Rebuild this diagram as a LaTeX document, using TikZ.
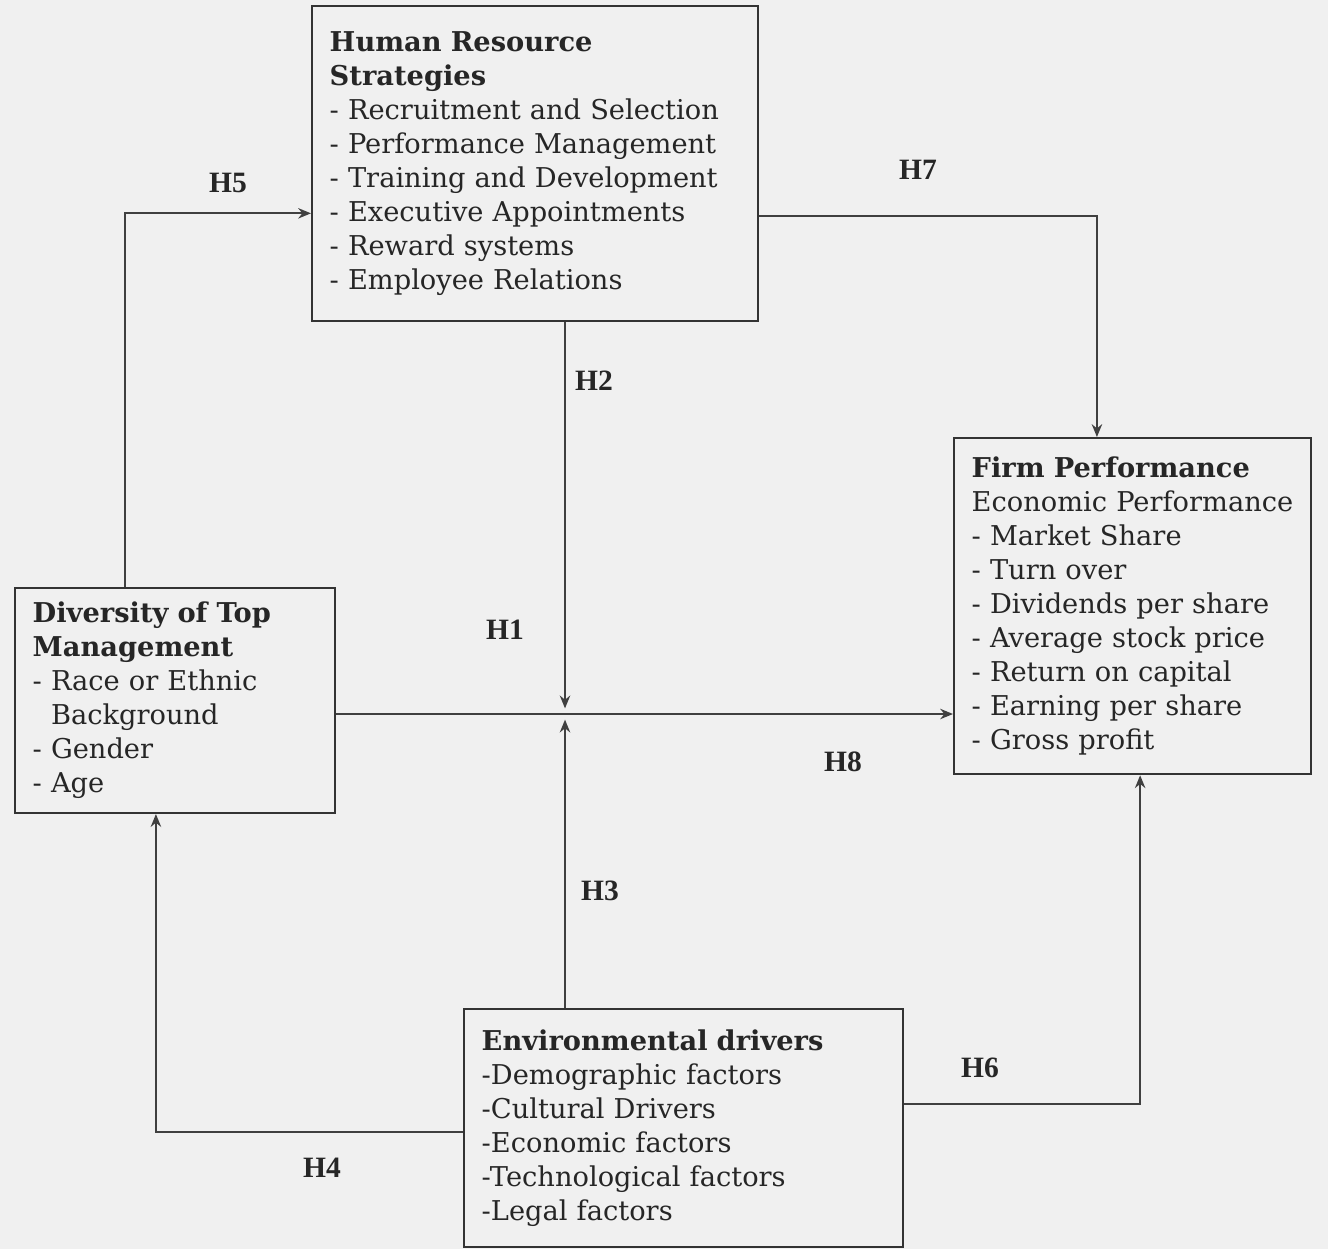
\documentclass[tikz,border=0pt]{standalone}
\usepackage{fontspec}
\setmainfont{DejaVu Serif}
\newfontfamily\hypfont{Liberation Serif}
\usepackage{tikz}
\usetikzlibrary{positioning}
\usetikzlibrary{arrows.meta}

\begin{document}
\begin{tikzpicture}[x=0.125mm, y=-0.125mm]
    \tikzstyle{block}=[draw=black!80, line width=0.8pt, anchor=north west,
            align=left, inner xsep=2.2mm, inner ysep=0pt, text=black!85,
            font=\fontsize{9.7}{12.1}\selectfont]
    \tikzstyle{link}=[draw=black!75, line width=0.7pt,
            -{Stealth[length=1.6mm, width=1.3mm]}]
    \tikzstyle{hyp}=[font=\hypfont\bfseries\fontsize{10.5}{12}\selectfont,
            text=black!85, inner sep=1pt]

        % page and scan tone
        \fill[black!6] (0,0) rectangle (1328,1249);
        \useasboundingbox (0,0) rectangle (1328,1249);

        % the four constructs
        \node[block, text width=51.35mm, minimum width=55.75mm,
            minimum height=39.4mm] (hr) at (311,5)
            {\textbf{Human Resource}\\ \textbf{Strategies}\\
             - Recruitment and Selection\\ - Performance Management\\
             - Training and Development\\ - Executive Appointments\\
             - Reward systems\\ - Employee Relations};

        \node[block, text width=40.2mm, minimum width=44.6mm,
            minimum height=42mm] (fp) at (953,437)
            {\textbf{Firm Performance}\\ Economic Performance\\
             - Market Share\\ - Turn over\\ - Dividends per share\\
             - Average stock price\\ - Return on capital\\
             - Earning per share\\ - Gross profit};

        \node[block, text width=35.6mm, minimum width=40mm,
            minimum height=28.1mm] (dtm) at (14,587)
            {\textbf{Diversity of Top}\\ \textbf{Management}\\
             - Race or Ethnic\\ \phantom{- }Background\\
             - Gender\\ - Age};

        \node[block, text width=50.5mm, minimum width=54.9mm,
            minimum height=29.75mm] (env) at (463,1008)
            {\textbf{Environmental drivers}\\ -Demographic factors\\
             -Cultural Drivers\\ -Economic factors\\
             -Technological factors\\ -Legal factors\\[4mm]};

        % where H1, H2 and H3 meet
        \coordinate (hub) at (565,714);

        % hypotheses
        \draw[link] ([xshift=-6.25mm]dtm.north) |- ([yshift=-6.2mm]hr.west);
        \draw[link] ([yshift=-6.55mm]hr.east) -| ([xshift=-4.45mm]fp.north);
        \draw[link] (dtm.east |- hub) -- (fp.west |- hub);
        \draw[link, shorten >=2pt] (hr.south -| hub) -- (hub);
        \draw[link, shorten >=2pt] (env.north -| hub) -- (hub);
        \draw[link] ([yshift=-0.5mm]env.west) -| ([xshift=-2.4mm]dtm.south);
        \draw[link] ([yshift=3mm]env.east) -| ([xshift=0.95mm]fp.south);

        \node[hyp] (h5) at (228,183) {H5};
        \node[hyp] (h7) at (918,170) {H7};
        \node[hyp] (h2) at (594,381) {H2};
        \node[hyp] (h1) at (505,630) {H1};
        \node[hyp] (h8) at (843,762) {H8};
        \node[hyp] (h3) at (600,891) {H3};
        \node[hyp] (h6) at (980,1068) {H6};
        \node[hyp] (h4) at (322,1168) {H4};
    \end{tikzpicture}
\end{document}
